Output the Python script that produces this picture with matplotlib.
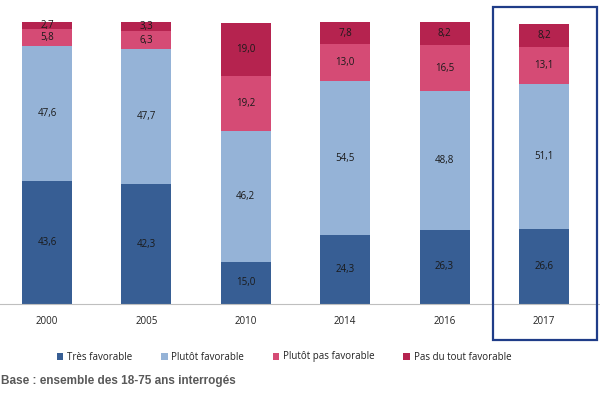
import matplotlib.pyplot as plt
from matplotlib.patches import Rectangle, Patch
import numpy as np

years = ['2000', '2005', '2010', '2014', '2016', '2017']
tres_fav = [43.6, 42.3, 15.0, 24.3, 26.3, 26.6]
plutot_fav = [47.6, 47.7, 46.2, 54.5, 48.8, 51.1]
plutot_pas = [5.8, 6.3, 19.2, 13.0, 16.5, 13.1]
pas_du_tout = [2.7, 3.3, 19.0, 7.8, 8.2, 8.2]
series_names = ['Très favorable', 'Plutôt favorable', 'Plutôt pas favorable', 'Pas du tout favorable']
colors = ['#375E94', '#95B3D7', '#D54B75', '#B5234F']

plt.rcParams['font.family'] = ['Open Sans', 'DejaVu Sans']

fig = plt.figure(figsize=(6, 3.94), dpi=100)
ax = fig.add_axes([0, (394 - 304) / 394, 1, 283 / 394])

x = np.arange(len(years))
bottom = np.zeros(len(years))
for vals, col in zip([tres_fav, plutot_fav, plutot_pas, pas_du_tout], colors):
    ax.bar(x, vals, width=0.503, bottom=bottom, color=col, linewidth=0)
    for xi, b, v in zip(x, bottom, vals):
        ax.text(xi, b + v / 2, f'{v:.1f}'.replace('.', ','), ha='center', va='center',
                fontsize=7, color='#1a1a1a')
    bottom += np.array(vals)

ax.set_xlim(-47 / 99.4, (600 - 47) / 99.4)
ax.set_ylim(0, 100)
for s in ['top', 'left', 'right']:
    ax.spines[s].set_visible(False)
ax.spines['bottom'].set_color('#BFBFBF')
ax.spines['bottom'].set_linewidth(0.8)
ax.set_yticks([])
ax.set_xticks(x)
ax.set_xticklabels(years, fontsize=7, color='#222222')
ax.tick_params(axis='x', length=0, pad=9)

handles = [Patch(facecolor=c, edgecolor='none') for c in colors]
fig.legend(handles, series_names, loc='center', bbox_to_anchor=(284 / 600, (394 - 357) / 394),
           ncol=4, frameon=False, fontsize=7, handlelength=0.7, handleheight=0.7,
           handletextpad=0.4, columnspacing=2.9, labelcolor='#222222')

fig.text(0.002, (394 - 381) / 394, 'Base : ensemble des 18-75 ans interrogés',
         fontsize=8.5, fontweight='bold', color='#595959', family='Liberation Sans',
         va='center', ha='left')

fig.patches.append(Rectangle((493 / 600, (394 - 340) / 394), 104 / 600, 333 / 394,
                             transform=fig.transFigure, fill=False,
                             edgecolor='#1F3C88', linewidth=1.6))

fig.savefig('out.png', dpi=100)
